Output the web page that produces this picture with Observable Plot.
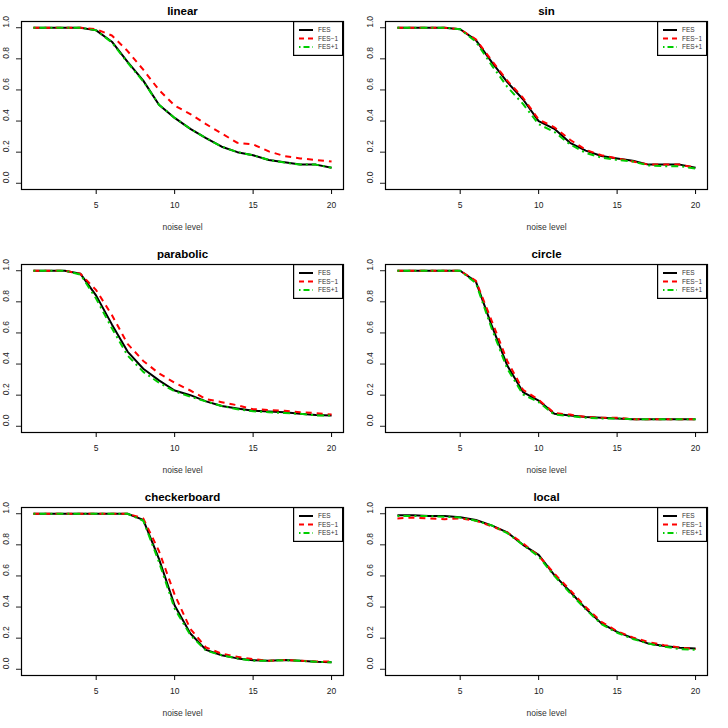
<!DOCTYPE html>
<html>
<head>
<meta charset="utf-8">
<script src="https://cdn.jsdelivr.net/npm/d3@7"></script>
<script src="https://cdn.jsdelivr.net/npm/@observablehq/plot@0.6"></script>
<style>
  body { margin: 0; background: #fff; font-family: "Liberation Sans", Arial, sans-serif; }
  #grid { display: grid; grid-template-columns: 364px 364px; width: 728px; }
  .panel { position: relative; width: 364px; }
  .panel svg { display: block; }
  .legend { position: absolute; left: 293px; top: 21px; }
</style>
</head>
<body>
<div id="grid"></div>
<script>
// ---- data ----
const noise = [1,2,3,4,5,6,7,8,9,10,11,12,13,14,15,16,17,18,19,20];
const xTicks = [5, 10, 15, 20];
const yTicks = [0, 0.2, 0.4, 0.6, 0.8, 1.0];
const seriesNames = ["FES", "FES\u22121", "FES+1"];
const panelTitles = ["linear", "sin", "parabolic", "circle", "checkerboard", "local"];

const linearFES = [1,1,1,1,0.983,0.91,0.78,0.66,0.505,0.42,0.35,0.29,0.235,0.20,0.18,0.15,0.135,0.12,0.12,0.10];
const linearM1  = [1,1,1,1,0.99,0.95,0.85,0.73,0.60,0.50,0.445,0.38,0.32,0.26,0.25,0.205,0.175,0.16,0.15,0.14];
const linearP1  = [1,1,1,1,0.983,0.905,0.775,0.655,0.505,0.42,0.35,0.29,0.235,0.20,0.18,0.15,0.133,0.12,0.12,0.10];

const sinFES = [1,1,1,1,0.99,0.92,0.78,0.65,0.54,0.40,0.35,0.26,0.21,0.175,0.16,0.145,0.12,0.12,0.12,0.10];
const sinM1  = [1,1,1,1,0.99,0.925,0.79,0.66,0.55,0.41,0.36,0.28,0.215,0.18,0.16,0.14,0.12,0.12,0.12,0.10];
const sinP1  = [1,1,1,1,0.99,0.91,0.76,0.62,0.51,0.38,0.33,0.25,0.195,0.165,0.15,0.14,0.115,0.11,0.11,0.095];

const parabolicFES = [1,1,1,0.98,0.84,0.655,0.48,0.37,0.295,0.23,0.20,0.16,0.13,0.115,0.10,0.095,0.09,0.08,0.073,0.07];
const parabolicM1  = [1,1,1,0.98,0.875,0.715,0.53,0.42,0.34,0.28,0.23,0.175,0.155,0.135,0.11,0.105,0.10,0.09,0.085,0.075];
const parabolicP1  = [1,1,1,0.975,0.82,0.63,0.455,0.35,0.28,0.225,0.19,0.16,0.13,0.11,0.097,0.09,0.085,0.08,0.07,0.07];

const circleFES = [1,1,1,1,1,0.93,0.65,0.39,0.22,0.165,0.08,0.07,0.06,0.055,0.05,0.045,0.045,0.045,0.045,0.045];
const circleM1  = [1,1,1,1,1,0.935,0.68,0.42,0.235,0.17,0.085,0.075,0.06,0.055,0.055,0.045,0.045,0.045,0.045,0.045];
const circleP1  = [1,1,1,1,1,0.92,0.63,0.37,0.205,0.155,0.075,0.065,0.055,0.05,0.05,0.045,0.045,0.045,0.045,0.045];

const checkerFES = [1,1,1,1,1,1,1,0.96,0.71,0.41,0.23,0.125,0.09,0.07,0.058,0.055,0.06,0.055,0.048,0.045];
const checkerM1  = [1,1,1,1,1,1,1,0.97,0.76,0.48,0.26,0.14,0.10,0.08,0.065,0.055,0.06,0.055,0.05,0.05];
const checkerP1  = [1,1,1,1,1,1,1,0.955,0.69,0.39,0.22,0.12,0.09,0.07,0.055,0.055,0.058,0.055,0.048,0.045];

const localFES = [0.99,0.99,0.985,0.985,0.978,0.96,0.925,0.88,0.80,0.735,0.605,0.50,0.39,0.295,0.24,0.20,0.165,0.15,0.138,0.133];
const localM1  = [0.97,0.975,0.97,0.965,0.97,0.955,0.92,0.88,0.81,0.73,0.615,0.51,0.40,0.305,0.245,0.205,0.175,0.155,0.14,0.13];
const localP1  = [0.985,0.985,0.985,0.98,0.975,0.955,0.925,0.875,0.80,0.725,0.60,0.49,0.385,0.29,0.235,0.195,0.165,0.145,0.13,0.125];

// ---- styles ----
const colors = ["#000000", "#FF0000", "#00CD00"];
const dashes = [null, "6,5", "2,4,7,4"];

const panelData = [
  [linearFES, linearM1, linearP1],
  [sinFES, sinM1, sinP1],
  [parabolicFES, parabolicM1, parabolicP1],
  [circleFES, circleM1, circleP1],
  [checkerFES, checkerM1, checkerP1],
  [localFES, localM1, localP1]
];

const grid = document.getElementById("grid");

panelTitles.forEach((title, p) => {
  const rows = [];
  panelData[p].forEach((vals, s) => {
    noise.forEach((x, i) => rows.push({x, y: vals[i], s: seriesNames[s]}));
  });
  const height = p >= 4 ? 242 : 243;
  const tickMark = Plot.axisTickY
    ? Plot.axisTickY({ticks: yTicks, tickSize: 5, stroke: "#000"})
    : Plot.axisY({ticks: yTicks, tickSize: 5, tickFormat: () => "", label: null});

  const chart = Plot.plot({
    width: 364,
    height,
    marginLeft: 21,
    marginRight: 21,
    marginTop: 21,
    marginBottom: height - 189,
    style: {fontFamily: "'Liberation Sans', Arial, sans-serif", fontSize: "8.5px", color: "#222", background: "#fff"},
    x: {domain: [0.24, 20.76]},
    y: {domain: [-0.04, 1.04]},
    marks: [
      ...seriesNames.map((name, s) => Plot.line(rows.filter(d => d.s === name), {
        x: "x", y: "y", stroke: colors[s], strokeWidth: 2,
        strokeDasharray: dashes[s], strokeLinejoin: "round", strokeLinecap: "butt"
      })),
      Plot.frame({stroke: "#000", strokeWidth: 1.2}),
      Plot.axisX({ticks: xTicks, tickSize: 5, tickPadding: 7, label: null, stroke: "#000"}),
      tickMark,
      Plot.text(yTicks, {y: d => d, text: d => d.toFixed(1), frameAnchor: "left", dx: -15, rotate: -90, fill: "#222"}),
      Plot.text([title], {frameAnchor: "top", lineAnchor: "middle", dy: -10, fontSize: 11.5, fontWeight: "bold", fill: "#000"}),
      Plot.text(["noise level"], {frameAnchor: "bottom", lineAnchor: "middle", dy: 38, fontSize: 8.5, fill: "#333"})
    ]
  });

  const div = document.createElement("div");
  div.className = "panel";
  div.appendChild(chart);

  // legend (box at top-right of the plotting frame)
  const ns = "http://www.w3.org/2000/svg";
  const lg = document.createElementNS(ns, "svg");
  lg.setAttribute("width", 50);
  lg.setAttribute("height", 35);
  lg.setAttribute("class", "legend");
  const rect = document.createElementNS(ns, "rect");
  rect.setAttribute("x", 0.6); rect.setAttribute("y", 0.6);
  rect.setAttribute("width", 49); rect.setAttribute("height", 33.8);
  rect.setAttribute("fill", "#fff"); rect.setAttribute("stroke", "#000"); rect.setAttribute("stroke-width", 1.2);
  lg.appendChild(rect);
  seriesNames.forEach((name, s) => {
    const yy = 9 + s * 8.5;
    const ln = document.createElementNS(ns, "line");
    ln.setAttribute("x1", 6); ln.setAttribute("x2", 20);
    ln.setAttribute("y1", yy); ln.setAttribute("y2", yy);
    ln.setAttribute("stroke", colors[s]); ln.setAttribute("stroke-width", 2);
    if (dashes[s]) ln.setAttribute("stroke-dasharray", s === 1 ? "5,4" : "1.5,3,6,3");
    lg.appendChild(ln);
    const tx = document.createElementNS(ns, "text");
    tx.setAttribute("x", 25); tx.setAttribute("y", yy);
    tx.setAttribute("dy", "0.35em");
    tx.setAttribute("font-size", 6.5);
    tx.setAttribute("font-family", "'Liberation Sans', Arial, sans-serif");
    tx.setAttribute("fill", "#333");
    tx.textContent = name;
    lg.appendChild(tx);
  });
  div.appendChild(lg);
  grid.appendChild(div);
});
</script>
</body>
</html>
